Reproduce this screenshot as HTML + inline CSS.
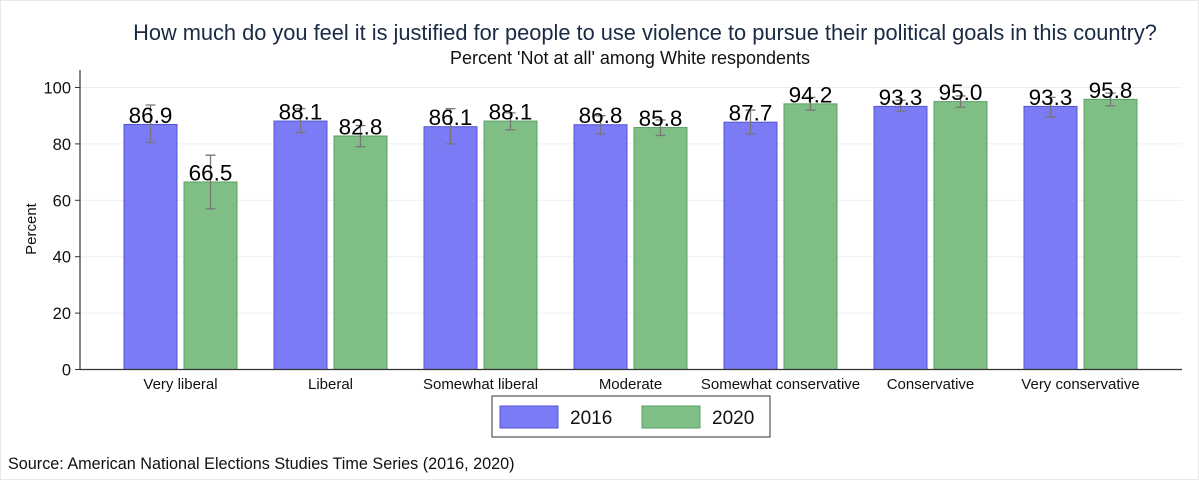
<!DOCTYPE html>
<html><head><meta charset="utf-8"><style>
body{margin:0;background:#fff;}
svg{display:block;font-family:"Liberation Sans",Arial,sans-serif;}
</style></head><body>
<svg id="chart" width="1199" height="480" viewBox="0 0 1199 480">
<rect x="0.5" y="0.5" width="1198" height="479" fill="#fff" stroke="#e6eaec"/>
<text x="645" y="40" text-anchor="middle" font-size="21.8" fill="#1a2a44">How much do you feel it is justified for people to use violence to pursue their political goals in this country?</text>
<text x="630" y="64" text-anchor="middle" font-size="18" fill="#111">Percent 'Not at all' among White respondents</text>
<text transform="translate(36,229) rotate(-90)" text-anchor="middle" font-size="15" fill="#111">Percent</text>
<g id="grid"></g><g id="bars"></g>
<line x1="80" y1="70" x2="80" y2="369.5" stroke="#333" stroke-width="1.2"/>
<line x1="80" y1="369.5" x2="1182" y2="369.5" stroke="#333" stroke-width="1.2"/>
<g>
<rect x="492" y="396" width="278" height="41" fill="#fff" stroke="#333"/>
<rect x="500" y="406" width="58" height="22" fill="#7b7bf6" stroke="#5555d0"/>
<text x="570" y="424" font-size="19" fill="#111">2016</text>
<rect x="642" y="406" width="58" height="22" fill="#7fbf86" stroke="#5aa064"/>
<text x="712" y="424" font-size="19" fill="#111">2020</text>
</g>
<text x="8" y="469" font-size="16.2" fill="#111">Source: American National Elections Studies Time Series (2016, 2020)</text>
</svg>
<script>
const categories=["Very liberal","Liberal","Somewhat liberal","Moderate","Somewhat conservative","Conservative","Very conservative"];
const values2016=[86.9,88.1,86.1,86.8,87.7,93.3,93.3];
const values2020=[66.5,82.8,88.1,85.8,94.2,95.0,95.8];
const lo2016=[80.5,84,80,83.5,83.5,91.5,89.5];
const hi2016=[93.8,92.5,92.5,90,92,95.5,96.5];
const lo2020=[57,79,85,83,92,93,93.5];
const hi2020=[76,86.5,91,88.5,96.5,97,98];
const yTicks=[0,20,40,60,80,100];
const NS="http://www.w3.org/2000/svg";
const y=v=>369.5-v*2.82;
const cx=i=>180.5+i*150;
function mk(tag,attrs,parent,text){const e=document.createElementNS(NS,tag);for(const k in attrs)e.setAttribute(k,attrs[k]);if(text!==undefined)e.textContent=text;parent.appendChild(e);return e;}
const grid=document.getElementById('grid'),bars=document.getElementById('bars');
yTicks.forEach(t=>{
  if(t>0){const g=mk('line',{x1:80,x2:1182,y1:y(t),y2:y(t),stroke:'#eceff0','stroke-width':1},grid);
  
  }
  const tk=mk('line',{x1:75,x2:80,y1:y(t),y2:y(t),stroke:'#333'},grid);
  
  
  const l=mk('text',{x:71,y:y(t)+6,'text-anchor':'end','font-size':16.5,fill:'#111'},grid,t);
  
  
});
function drawBar(i,v,lo,hi,x0,fill,stroke,tag){
  const r=mk('rect',{x:x0,y:y(v),width:53,height:369.5-y(v),fill:fill,stroke:stroke,'stroke-width':1},bars);
  
  
  const xm=x0+26.5;
  const e=mk('path',{d:`M${xm},${y(lo)}V${y(hi)}M${xm-5},${y(lo)}H${xm+5}M${xm-5},${y(hi)}H${xm+5}`,stroke:'#777','stroke-width':1.3,fill:'none'},bars);
  
  
  const t=mk('text',{x:xm,y:y(v)-1.5,'text-anchor':'middle','font-size':22.5,fill:'#000'},bars,v.toFixed(1));
  
  
}
categories.forEach((c,i)=>{
  drawBar(i,values2016[i],lo2016[i],hi2016[i],cx(i)-56.5,'#7b7bf6','#5555d0','2016');
  drawBar(i,values2020[i],lo2020[i],hi2020[i],cx(i)+3.5,'#7fbf86','#5aa064','2020');
  const l=mk('text',{x:cx(i),y:389,'text-anchor':'middle','font-size':15,fill:'#111'},bars,c);
  
  
});
</script>
</body></html>
